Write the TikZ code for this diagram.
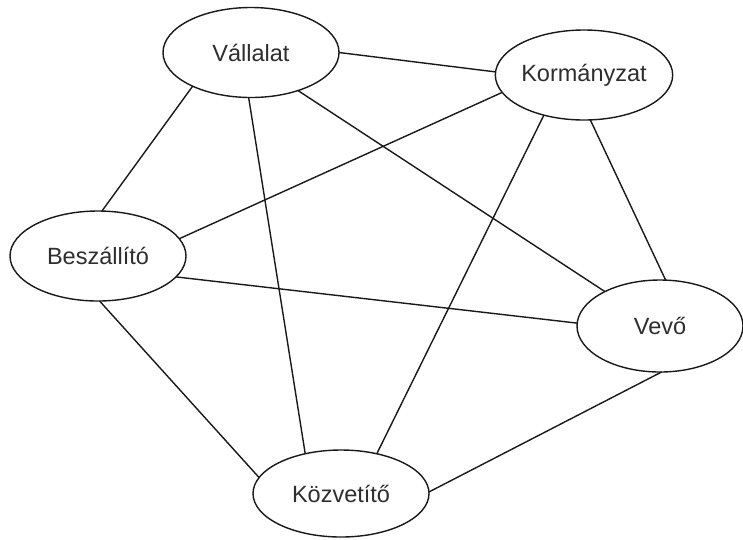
\documentclass[tikz,border=0pt]{standalone}
\usepackage{fontspec}
\setmainfont{Liberation Sans}
\usetikzlibrary{shapes.geometric}

\definecolor{inkline}{gray}{0.1}
\definecolor{inktext}{gray}{0.18}

\tikzset{
  actor/.style={ellipse, draw=inkline, line width=1.4pt, fill=white,
    minimum width=176pt, minimum height=90pt, inner sep=0pt, outer sep=0pt,
    font=\fontsize{23.5}{26}\selectfont, text=inktext},
  link/.style={draw=inkline, line width=1.4pt}
}

\begin{document}
\begin{tikzpicture}[x=1pt, y=-1pt]
  \useasboundingbox (0,0) rectangle (743,539);

  % stakeholders
  \node[actor] (vall) at (251,52.5) {Vállalat};
  \node[actor] (korm) at (584,75) {Kormányzat};
  \node[actor] (besz) at (98,256) {Beszállító};
  \node[actor, minimum width=166pt, minimum height=92pt] (vevo) at (660,326) {Vevő};
  \node[actor, minimum height=87pt] (kozv) at (341,493.5) {Közvetítő};

  % every pair is connected
  \draw[link] (vall.0)   -- (korm.178);
  \draw[link] (vall.210) -- (besz.85);
  \draw[link] (vall.267) -- (kozv.132);
  \draw[link] (vall.321) -- (vevo.148);
  \draw[link] (korm.192) -- (besz.12);
  \draw[link] (korm.225) -- (kozv.48);
  \draw[link] (korm.278) -- (vevo.83);
  \draw[link] (besz.345) -- (vevo.178);
  \draw[link] (besz.272) -- (kozv.169);
  \draw[link] (vevo.272) -- (kozv.1);
\end{tikzpicture}
\end{document}
